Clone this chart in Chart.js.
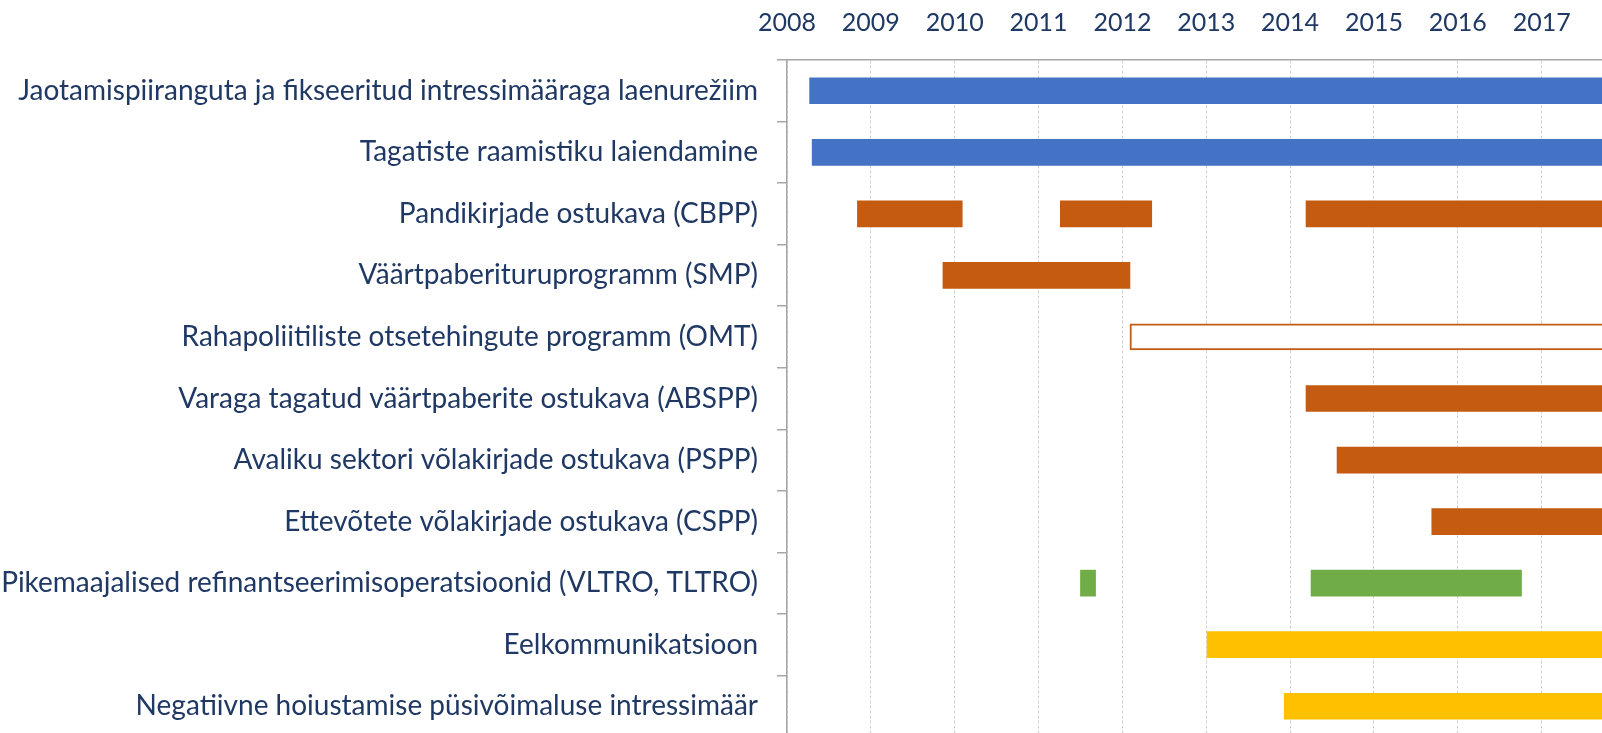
<!DOCTYPE html>
<html>
<head>
<meta charset="utf-8">
<script src="https://cdn.jsdelivr.net/npm/chart.js@4"></script>
<style>
  html, body { margin: 0; padding: 0; background: #fff; overflow: hidden; }
  canvas { display: block; }
</style>
</head>
<body>
<canvas id="gantt" width="1602" height="737"></canvas>
<script>
// rows of the chart, top to bottom
const programmes = [
  "Jaotamispiiranguta ja fikseeritud intressimääraga laenurežiim",
  "Tagatiste raamistiku laiendamine",
  "Pandikirjade ostukava (CBPP)",
  "Väärtpaberituruprogramm (SMP)",
  "Rahapoliitiliste otsetehingute programm (OMT)",
  "Varaga tagatud väärtpaberite ostukava (ABSPP)",
  "Avaliku sektori võlakirjade ostukava (PSPP)",
  "Ettevõtete võlakirjade ostukava (CSPP)",
  "Pikemaajalised refinantseerimisoperatsioonid (VLTRO, TLTRO)",
  "Eelkommunikatsioon",
  "Negatiivne hoiustamise püsivõimaluse intressimäär"
];

const yearTicks = [2008, 2009, 2010, 2011, 2012, 2013, 2014, 2015, 2016, 2017];
const ongoing = 2018; // still running, runs past the right edge

// [start, end] per row, null where the series has no bar
const liquidityBars  = [[2008.27, ongoing], [2008.30, ongoing], null, null, null, null, null, null, null, null, null];
const purchaseBars   = [null, null, [2008.84, 2010.09], [2009.86, 2012.09], null, [2014.19, ongoing], [2014.56, ongoing], [2015.69, ongoing], null, null, null];
const purchaseBars2  = [null, null, [2011.26, 2012.35], null, null, null, null, null, null, null, null];
const purchaseBars3  = [null, null, [2014.19, ongoing], null, null, null, null, null, null, null, null];
const omtBars        = [null, null, null, null, [2012.09, ongoing], null, null, null, null, null, null];
const ltroBars       = [null, null, null, null, null, null, null, null, [2011.50, 2011.68], null, null];
const ltroBars2      = [null, null, null, null, null, null, null, null, [2014.25, 2016.76], null, null];
const guidanceBars   = [null, null, null, null, null, null, null, null, null, [2013.01, ongoing], [2013.93, ongoing]];

const textColor = "#1F3864";
const fontFamily = "Lato, 'Open Sans', sans-serif";

function bars(data, fill, border, width) {
  return {
    data: data,
    backgroundColor: fill,
    borderColor: border || fill,
    borderWidth: width || 0,
    borderSkipped: false,
    barThickness: 26,
    grouped: false
  };
}

new Chart(document.getElementById("gantt"), {
  type: "bar",
  data: {
    labels: programmes,
    datasets: [
      bars(liquidityBars, "#4472C4"),
      bars(purchaseBars, "#C55A11"),
      bars(purchaseBars2, "#C55A11"),
      bars(purchaseBars3, "#C55A11"),
      bars(omtBars, "#FFFFFF", "#C55A11", 2),
      bars(ltroBars, "#70AD47"),
      bars(ltroBars2, "#70AD47"),
      bars(guidanceBars, "#FFC000")
    ]
  },
  options: {
    indexAxis: "y",
    responsive: false,
    animation: false,
    layout: { padding: 0 },
    plugins: {
      legend: { display: false },
      tooltip: { enabled: false }
    },
    scales: {
      x: {
        type: "linear",
        position: "top",
        min: 2008,
        max: 2017.72,
        afterFit: (scale) => {
          scale.height = 60;
          scale.paddingLeft = 0;
          scale.paddingRight = 0;
        },
        afterBuildTicks: (scale) => {
          scale.ticks = yearTicks.map(v => ({ value: v }));
        },
        ticks: {
          stepSize: 1,
          includeBounds: false,
          padding: 22,
          color: textColor,
          font: { family: fontFamily, size: 25 },
          callback: (v) => String(v)
        },
        grid: {
          drawTicks: false,
          color: "#D0D0D0",
          lineWidth: 1
        },
        border: { display: true, color: "#A6A6A6", width: 1.5, dash: [3, 2] }
      },
      y: {
        type: "category",
        afterFit: (scale) => {
          scale.width = 787;
          scale.paddingTop = 0;
          scale.paddingBottom = 0;
        },
        ticks: {
          padding: 19,
          color: textColor,
          font: { family: fontFamily, size: 28 }
        },
        grid: {
          offset: true,
          drawOnChartArea: false,
          drawTicks: true,
          tickLength: 10,
          color: "#A6A6A6",
          lineWidth: 1.5
        },
        border: { display: true, color: "#A6A6A6", width: 1.5 }
      }
    }
  }
});
</script>
</body>
</html>
